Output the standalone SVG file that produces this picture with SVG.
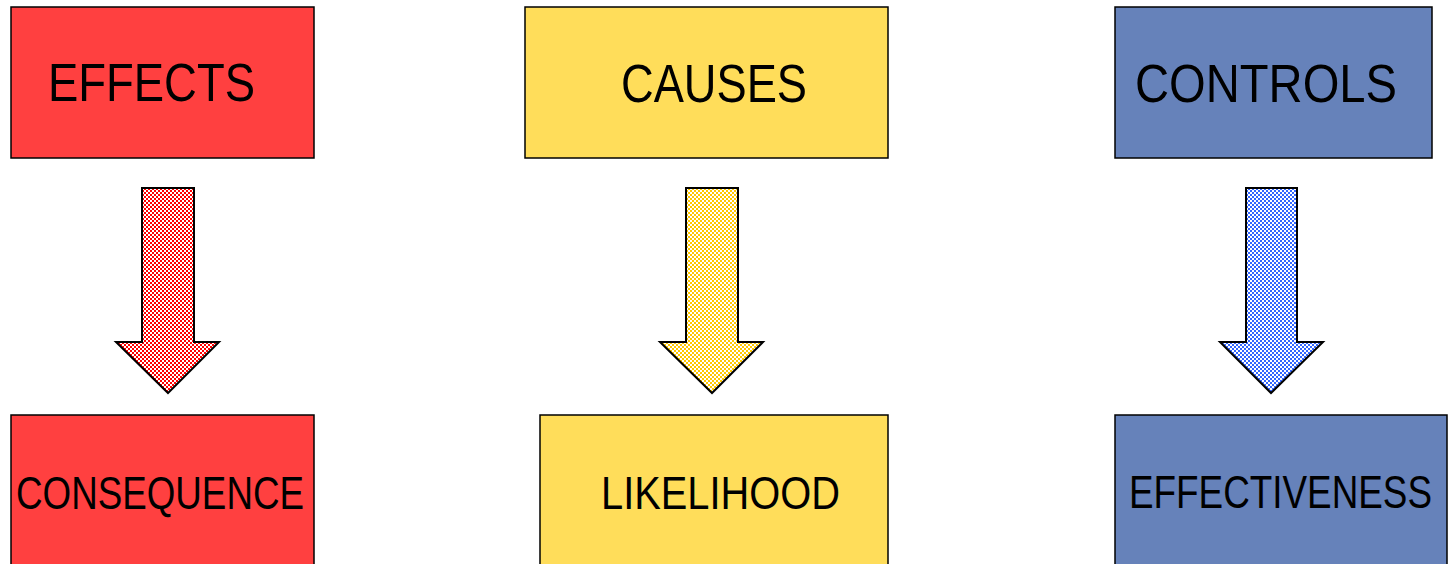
<svg xmlns="http://www.w3.org/2000/svg" width="1453" height="564" viewBox="0 0 1453 564">
<style>
.box{stroke:#000;stroke-width:1.5}
.red{fill:#FF4040}
.yel{fill:#FFDD5A}
.blu{fill:#6682BA}
.arr{stroke:#000;stroke-width:2;stroke-linejoin:miter}
text{font-family:"Liberation Sans",Arial,sans-serif;fill:#000}
.big{font-size:53px}
.sm{font-size:46px}
</style>
<defs>
<pattern id="pr" width="4" height="4" patternUnits="userSpaceOnUse"><rect width="4" height="4" fill="#fff"/><rect width="2" height="2" fill="#FF0000"/><rect x="2" y="2" width="2" height="2" fill="#FF0000"/></pattern>
<pattern id="py" width="4" height="4" patternUnits="userSpaceOnUse"><rect width="4" height="4" fill="#fff"/><rect width="2" height="2" fill="#FFC800"/><rect x="2" y="2" width="2" height="2" fill="#FFC800"/></pattern>
<pattern id="pb" width="4" height="4" patternUnits="userSpaceOnUse"><rect width="4" height="4" fill="#fff"/><rect width="2" height="2" fill="#3366FF"/><rect x="2" y="2" width="2" height="2" fill="#3366FF"/></pattern>
</defs>
<rect width="1453" height="564" fill="#fff"/>
<g id="effects"><rect class="box red" x="11" y="7" width="303" height="151"/><text class="big" x="48" y="101" textLength="207" lengthAdjust="spacingAndGlyphs">EFFECTS</text></g>
<g id="causes"><rect class="box yel" x="525" y="7" width="363" height="151"/><text class="big" x="621" y="102" textLength="186" lengthAdjust="spacingAndGlyphs">CAUSES</text></g>
<g id="controls"><rect class="box blu" x="1115" y="7" width="317" height="151"/><text class="big" x="1135" y="102" textLength="262" lengthAdjust="spacingAndGlyphs">CONTROLS</text></g>
<g id="consequence"><rect class="box red" x="11" y="415" width="303" height="160"/><text class="sm" x="16" y="509" textLength="288" lengthAdjust="spacingAndGlyphs">CONSEQUENCE</text></g>
<g id="likelihood"><rect class="box yel" x="540" y="415" width="348" height="160"/><text class="sm" x="601" y="509" textLength="239" lengthAdjust="spacingAndGlyphs">LIKELIHOOD</text></g>
<g id="effectiveness"><rect class="box blu" x="1115" y="415" width="332" height="160"/><text class="sm" x="1129" y="508" textLength="303" lengthAdjust="spacingAndGlyphs">EFFECTIVENESS</text></g>
<g id="connectors">
<polygon class="arr" fill="url(#pr)" points="142,188 194,188 194,342 219,342 168,393 116,342 142,342"/>
<polygon class="arr" fill="url(#py)" points="686,188 738,188 738,342 763,342 712,393 660,342 686,342"/>
<polygon class="arr" fill="url(#pb)" points="1246,188 1297,188 1297,342 1323,342 1271,393 1220,342 1246,342"/>
</g>
</svg>
